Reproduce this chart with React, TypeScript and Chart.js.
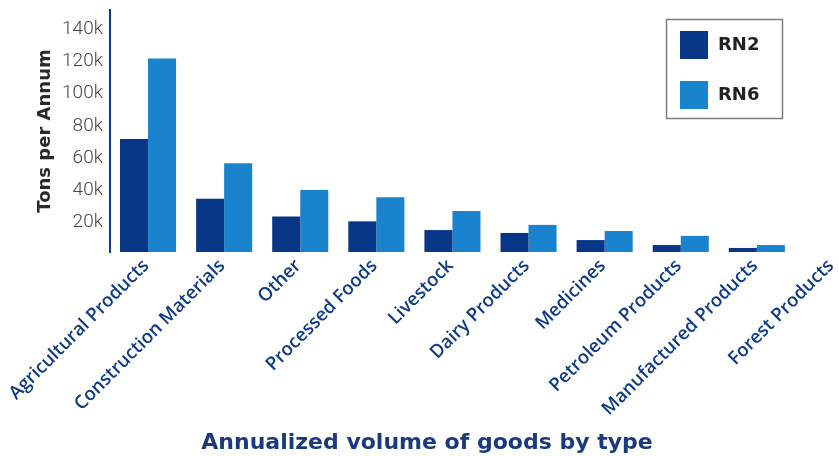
import React, { useEffect, useRef } from 'react';
import { Chart, registerables } from 'chart.js';

Chart.register(...registerables);

const categories = [
  'Agricultural Products',
  'Construction Materials',
  'Other',
  'Processed Foods',
  'Livestock',
  'Dairy Products',
  'Medicines',
  'Petroleum Products',
  'Manufactured Products',
  'Forest Products',
];
const seriesNames = ['RN2', 'RN6'];
const rn2Values = [70000, 33000, 22000, 19000, 13600, 11800, 7400, 4300, 2500, 0];
const rn6Values = [120000, 55000, 38500, 34000, 25400, 16800, 13000, 10000, 4300, 0];
const yTickValues = [20000, 40000, 60000, 80000, 100000, 120000, 140000];
const yMax = 150000;
const yTitle = 'Tons per Annum';
const xTitle = 'Annualized volume of goods by type';

const COLOR_RN2 = '#073786';
const COLOR_RN6 = '#1984cd';

const boxLegendPlugin = {
  id: 'boxLegend',
  afterDraw(chart: any) {
    const ctx = chart.ctx as CanvasRenderingContext2D;
    ctx.save();
    ctx.strokeStyle = '#7d7d7d';
    ctx.lineWidth = 1.5;
    ctx.strokeRect(666.5, 19.5, 116, 99);
    chart.data.datasets.forEach((ds: any, i: number) => {
      const y = 31 + i * 50;
      ctx.fillStyle = ds.backgroundColor;
      ctx.fillRect(680, y, 28, 28);
      ctx.fillStyle = '#222222';
      ctx.font = 'bold 18px "DejaVu Sans"';
      ctx.textAlign = 'left';
      ctx.textBaseline = 'middle';
      ctx.fillText(ds.label, 718, y + 14);
    });
    ctx.font = 'bold 22px "DejaVu Sans"';
    ctx.fillStyle = '#1b3a7d';
    ctx.textAlign = 'center';
    ctx.textBaseline = 'middle';
    ctx.fillText(xTitle, 427, 443);
    ctx.restore();
  },
};

export default function App() {
  const canvasRef = useRef<HTMLCanvasElement | null>(null);

  useEffect(() => {
    if (!canvasRef.current) return;
    const chart = new Chart(canvasRef.current, {
      type: 'bar',
      data: {
        labels: categories,
        datasets: [
          { label: seriesNames[0], data: rn2Values, backgroundColor: COLOR_RN2, borderWidth: 0 },
          { label: seriesNames[1], data: rn6Values, backgroundColor: COLOR_RN6, borderWidth: 0 },
        ],
      },
      options: {
        animation: false,
        responsive: false,
        layout: { padding: { top: 10, right: 9, left: 0, bottom: 0 } },
        datasets: {
          bar: { categoryPercentage: 0.737, barPercentage: 1.0 },
        },
        plugins: {
          legend: { display: false },
          tooltip: { enabled: false },
        },
        scales: {
          x: {
            grid: { display: false, drawTicks: false },
            border: { display: false },
            ticks: {
              autoSkip: false,
              minRotation: 45,
              maxRotation: 45,
              padding: 3,
              labelOffset: -2,
              color: '#0d3b86',
              font: { family: '"Open Sans"', size: 18.5, weight: '600' },
            },
            afterFit(scale: any) {
              scale.height = 204;
              scale.paddingLeft = 0;
              scale.paddingRight = 0;
            },
          },
          y: {
            min: 0,
            max: yMax,
            grid: { display: false, drawTicks: false },
            border: { display: true, color: '#0a3a8a', width: 2 },
            ticks: {
              padding: 7,
              labelOffset: 3,
              color: '#454545',
              font: { family: 'Roboto', size: 19, weight: '300' },
              callback: (v: any) => `${Number(v) / 1000}k`,
            },
            afterBuildTicks(scale: any) {
              scale.ticks = yTickValues.map((value) => ({ value }));
            },
            title: {
              display: true,
              text: yTitle,
              color: '#2a2a2a',
              font: { family: '"DejaVu Sans"', size: 18, weight: 'bold' },
              padding: { top: 35, bottom: 0 },
            },
            afterFit(scale: any) {
              scale.width = 110;
              scale.paddingTop = 0;
              scale.paddingBottom = 0;
            },
          },
        },
      },
      plugins: [boxLegendPlugin],
    });
    return () => chart.destroy();
  }, []);

  return (
    <div
      style={{
        position: 'fixed',
        left: 0,
        top: 0,
        width: 839,
        height: 456,
        overflow: 'hidden',
        background: '#ffffff',
      }}
    >
      <canvas ref={canvasRef} width={880} height={456} style={{ display: 'block' }} />
    </div>
  );
}
